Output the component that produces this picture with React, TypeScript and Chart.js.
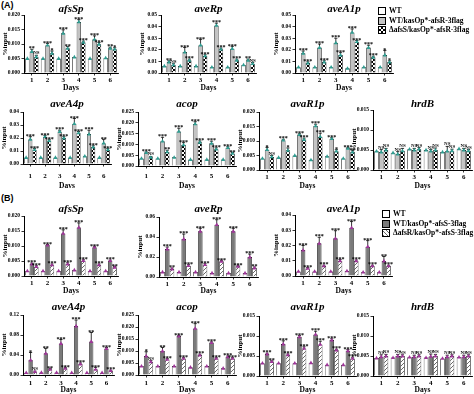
import React, { useEffect, useRef } from 'react';
import { Chart, registerables } from 'chart.js';
Chart.register(...registerables);

const DAYS = ['1', '2', '3', '4', '5', '6'];
const SERIES_A = ['WT', 'WT/kasOp*-afsR-3flag', 'ΔafsS/kasOp*-afsR-3flag'];
const SERIES_B = ['WT', 'WT/kasOp*-afsS-3flag', 'ΔafsR/kasOp*-afsS-3flag'];

// ---------- Panel (A) ----------
const A_afsSp_wt = [0.005, 0.005, 0.005, 0.0055, 0.005, 0.0052];
const A_afsSp_oe = [0.0074, 0.0096, 0.0137, 0.0176, 0.0116, 0.0085];
const A_afsSp_dl = [0.0056, 0.0068, 0.0085, 0.0106, 0.0099, 0.0082];
const A_afsSp_oeErr = [0.0008, 0.0006, 0.0012, 0.0008, 0.0012, 0.0004];
const A_afsSp_dlErr = [0.0005, 0.0008, 0.0006, 0.0004, 0.0006, 0.0005];
const A_afsSp_oeSig = ['**', '***', '***', '***', '***', '**'];
const A_afsSp_dlSig = ['NS', '*', '**', '***', '***', '*'];

const A_aveRp_wt = [0.006, 0.006, 0.006, 0.005, 0.005, 0.007];
const A_aveRp_oe = [0.0095, 0.018, 0.024, 0.041, 0.021, 0.011];
const A_aveRp_dl = [0.007, 0.011, 0.0147, 0.0205, 0.011, 0.008];
const A_aveRp_oeErr = [0.001, 0.004, 0.005, 0.002, 0.002, 0.001];
const A_aveRp_dlErr = [0.001, 0.001, 0.001, 0.001, 0.001, 0.001];
const A_aveRp_oeSig = ['**', '***', '***', '***', '***', '**'];
const A_aveRp_dlSig = ['NS', '***', '***', '***', '***', 'NS'];

const A_aveA1p_wt = [0.005, 0.005, 0.005, 0.004, 0.005, 0.005];
const A_aveA1p_oe = [0.017, 0.022, 0.026, 0.035, 0.022, 0.0155];
const A_aveA1p_dl = [0.0086, 0.0095, 0.0155, 0.027, 0.0135, 0.0095];
const A_aveA1p_oeErr = [0.002, 0.003, 0.004, 0.003, 0.002, 0.004];
const A_aveA1p_dlErr = [0.001, 0.001, 0.002, 0.001, 0.001, 0.001];
const A_aveA1p_oeSig = ['***', '***', '***', '***', '***', '*'];
const A_aveA1p_dlSig = ['***', '***', '***', '***', '***', '*'];

const A_aveA4p_wt = [0.005, 0.005, 0.005, 0.005, 0.006, 0.005];
const A_aveA4p_oe = [0.019, 0.021, 0.025, 0.031, 0.023, 0.016];
const A_aveA4p_dl = [0.011, 0.018, 0.02, 0.024, 0.013, 0.011];
const A_aveA4p_oeErr = [0.002, 0.001, 0.001, 0.004, 0.003, 0.003];
const A_aveA4p_dlErr = [0.001, 0.001, 0.001, 0.001, 0.001, 0.001];
const A_aveA4p_oeSig = ['***', '***', '***', '***', '***', '**'];
const A_aveA4p_dlSig = ['***', '***', '***', '***', '***', '***'];

const A_acop_wt = [0.0035, 0.0035, 0.004, 0.003, 0.003, 0.003];
const A_acop_oe = [0.0062, 0.0115, 0.016, 0.0195, 0.0105, 0.0085];
const A_acop_dl = [0.004, 0.0065, 0.0098, 0.011, 0.0078, 0.0058];
const A_acop_oeErr = [0.0003, 0.0018, 0.0015, 0.001, 0.001, 0.0004];
const A_acop_dlErr = [0.0004, 0.0008, 0.001, 0.0006, 0.0006, 0.0005];
const A_acop_oeSig = ['***', '***', '***', '***', '***', '***'];
const A_acop_dlSig = ['NS', '**', '***', '***', '***', '**'];

const A_avaR1p_wt = [0.004, 0.0043, 0.005, 0.0035, 0.0047, 0.004];
const A_avaR1p_oe = [0.007, 0.0103, 0.0122, 0.0152, 0.0108, 0.0075];
const A_avaR1p_dl = [0.0045, 0.0068, 0.0105, 0.0115, 0.0065, 0.0062];
const A_avaR1p_oeErr = [0.0008, 0.0003, 0.0003, 0.0006, 0.0003, 0.0002];
const A_avaR1p_dlErr = [0.0005, 0.0008, 0.0005, 0.0012, 0.0005, 0.0004];
const A_avaR1p_oeSig = ['*', '***', '***', '***', '***', '***'];
const A_avaR1p_dlSig = ['NS', '*', '***', '***', '*', '**'];

const A_hrdB_wt = [0.0047, 0.0043, 0.0052, 0.005, 0.0045, 0.0053];
const A_hrdB_oe = [0.0045, 0.004, 0.005, 0.0047, 0.0047, 0.005];
const A_hrdB_dl = [0.005, 0.0048, 0.0052, 0.005, 0.0048, 0.0048];
const A_hrdB_oeErr = [0.0006, 0.0006, 0.0004, 0.0004, 0.0012, 0.0004];
const A_hrdB_dlErr = [0.0004, 0.0006, 0.0004, 0.0005, 0.0004, 0.0003];
const A_hrdB_oeSig = ['NS', 'NS', 'NS', 'NS', 'NS', 'NS'];
const A_hrdB_dlSig = ['NS', 'NS', 'NS', 'NS', 'NS', 'NS'];

// ---------- Panel (B) ----------
const B_afsSp_wt = [0.0017, 0.0017, 0.0017, 0.002, 0.0017, 0.0017];
const B_afsSp_oe = [0.004, 0.0103, 0.0142, 0.0162, 0.0096, 0.0051];
const B_afsSp_dl = [0.0031, 0.0037, 0.004, 0.0051, 0.0037, 0.0029];
const B_afsSp_oeErr = [0.0003, 0.0002, 0.0012, 0.0015, 0.0003, 0.0002];
const B_afsSp_dlErr = [0.0003, 0.0003, 0.0004, 0.0003, 0.0003, 0.0003];
const B_afsSp_oeSig = ['***', '***', '***', '***', '***', '***'];
const B_afsSp_dlSig = ['***', '***', '***', '***', '***', '**'];

const B_aveRp_wt = [0.005, 0.005, 0.005, 0.004, 0.004, 0.004];
const B_aveRp_oe = [0.028, 0.038, 0.0457, 0.0523, 0.0457, 0.02];
const B_aveRp_dl = [0.008, 0.0113, 0.0123, 0.0157, 0.0107, 0.009];
const B_aveRp_oeErr = [0.002, 0.005, 0.003, 0.005, 0.003, 0.003];
const B_aveRp_dlErr = [0.001, 0.001, 0.001, 0.001, 0.001, 0.001];
const B_aveRp_oeSig = ['***', '***', '***', '***', '***', '***'];
const B_aveRp_dlSig = ['**', '***', '***', '***', '***', '**'];

const B_aveA1p_wt = [0.003, 0.003, 0.003, 0.0033, 0.0025, 0.0025];
const B_aveA1p_oe = [0.017, 0.0214, 0.0247, 0.0317, 0.0192, 0.0098];
const B_aveA1p_dl = [0.005, 0.0066, 0.01, 0.01, 0.0066, 0.0066];
const B_aveA1p_oeErr = [0.003, 0.004, 0.005, 0.004, 0.004, 0.003];
const B_aveA1p_dlErr = [0.0005, 0.0005, 0.0008, 0.0005, 0.0005, 0.0005];
const B_aveA1p_oeSig = ['***', '***', '***', '***', '***', '**'];
const B_aveA1p_dlSig = ['***', '***', '***', '***', '***', '***'];

const B_aveA4p_wt = [0.0047, 0.005, 0.005, 0.0047, 0.0047, 0.0047];
const B_aveA4p_oe = [0.03, 0.0433, 0.063, 0.098, 0.067, 0.053];
const B_aveA4p_dl = [0.0067, 0.0113, 0.0133, 0.022, 0.0113, 0.0087];
const B_aveA4p_oeErr = [0.015, 0.01, 0.008, 0.012, 0.018, 0.002];
const B_aveA4p_dlErr = [0.001, 0.002, 0.002, 0.002, 0.004, 0.001];
const B_aveA4p_oeSig = ['*', '**', '***', '***', '**', '***'];
const B_aveA4p_dlSig = ['NS', '**', '***', '***', '***', '***'];

const B_acop_wt = [0.0037, 0.0037, 0.0037, 0.0032, 0.0037, 0.0028];
const B_acop_oe = [0.0079, 0.01, 0.0162, 0.0194, 0.0135, 0.0076];
const B_acop_dl = [0.0055, 0.0065, 0.0069, 0.0083, 0.0069, 0.0069];
const B_acop_oeErr = [0.0018, 0.0015, 0.0003, 0.002, 0.0003, 0.0003];
const B_acop_dlErr = [0.0005, 0.0003, 0.0003, 0.0004, 0.0003, 0.0003];
const B_acop_oeSig = ['*', '**', '***', '***', '***', '***'];
const B_acop_dlSig = ['NS', '***', '***', '***', '***', '***'];

const B_avaR1p_wt = [0.0032, 0.0032, 0.0032, 0.0033, 0.0028, 0.0028];
const B_avaR1p_oe = [0.0055, 0.008, 0.0098, 0.0104, 0.009, 0.0063];
const B_avaR1p_dl = [0.0036, 0.0053, 0.0069, 0.0079, 0.0065, 0.0044];
const B_avaR1p_oeErr = [0.0002, 0.0008, 0.0003, 0.0008, 0.0003, 0.0003];
const B_avaR1p_dlErr = [0.0002, 0.0002, 0.0004, 0.0008, 0.0002, 0.0003];
const B_avaR1p_oeSig = ['***', '***', '***', '***', '***', '***'];
const B_avaR1p_dlSig = ['**', '***', '***', '***', '***', '***'];

const B_hrdB_wt = [0.0045, 0.0046, 0.0047, 0.0046, 0.0044, 0.0047];
const B_hrdB_oe = [0.0048, 0.005, 0.0048, 0.0049, 0.0048, 0.0048];
const B_hrdB_dl = [0.005, 0.005, 0.005, 0.005, 0.005, 0.005];
const B_hrdB_oeErr = [0.0005, 0.0004, 0.0004, 0.0006, 0.0004, 0.0004];
const B_hrdB_dlErr = [0.0004, 0.0003, 0.0003, 0.0004, 0.0003, 0.0003];
const B_hrdB_oeSig = ['NS', 'NS', 'NS', 'NS', 'NS', 'NS'];
const B_hrdB_dlSig = ['NS', 'NS', 'NS', 'NS', 'NS', 'NS'];

const SERIF = '"Liberation Serif", "DejaVu Serif", serif';

type Variant = 'A' | 'B';
interface PanelCfg {
  title: string;
  variant: Variant;
  wt: number[]; oe: number[]; dl: number[];
  oeErr: number[]; dlErr: number[];
  oeSig: string[]; dlSig: string[];
  yMax: number; yStep: number; dec: number;
  plot: [number, number, number, number];
  tickY: number; daysY: number; titleY: number;
}

const STYLE = {
  A: { oeFill: '#c3c3c3', marker: '#2f9e92' },
  B: { oeFill: '#7a7a7a', marker: '#a0359a' },
};

function makePattern(variant: Variant): CanvasPattern | string {
  const c = document.createElement('canvas');
  c.width = 4; c.height = 4;
  const g = c.getContext('2d');
  if (!g) return '#888';
  g.fillStyle = '#fff';
  g.fillRect(0, 0, 4, 4);
  if (variant === 'A') {
    g.fillStyle = '#000';
    g.fillRect(0, 0, 2, 2);
    g.fillRect(2, 2, 2, 2);
  } else {
    g.strokeStyle = '#6a6a6a';
    g.lineWidth = 1;
    g.beginPath();
    g.moveTo(-1, 5); g.lineTo(5, -1);
    g.moveTo(-1, 1); g.lineTo(1, -1);
    g.moveTo(3, 5); g.lineTo(5, 3);
    g.stroke();
  }
  const p = g.createPattern(c, 'repeat');
  return p || '#888';
}

const YW = 30, PT = 20, PR = 4, XH = 24;

function Panel({ cfg }: { cfg: PanelCfg }) {
  const ref = useRef<HTMLCanvasElement>(null);
  const [l, t, r, b] = cfg.plot;
  const W = YW + (r - l) + PR;
  const H = PT + (b - t) + XH;
  const left = l - YW;
  const top = t - PT;

  useEffect(() => {
    const canvas = ref.current;
    if (!canvas) return;
    const st = STYLE[cfg.variant];
    const names = cfg.variant === 'A' ? SERIES_A : SERIES_B;
    const values = [cfg.wt, cfg.oe, cfg.dl];
    const errs = [null, cfg.oeErr, cfg.dlErr];
    const sigs = [null, cfg.oeSig, cfg.dlSig];

    const deco = {
      id: 'deco',
      afterDatasetsDraw(chart: any) {
        const ctx = chart.ctx as CanvasRenderingContext2D;
        const ys = chart.scales.y;
        ctx.save();
        for (let ds = 0; ds < 3; ds++) {
          const meta = chart.getDatasetMeta(ds);
          meta.data.forEach((bar: any, i: number) => {
            const v = values[ds][i];
            const e = errs[ds] ? (errs[ds] as number[])[i] : 0;
            const x = bar.x;
            const yv = ys.getPixelForValue(v);
            const ye = ys.getPixelForValue(v + e);
            if (e > 0) {
              ctx.strokeStyle = '#000';
              ctx.lineWidth = 0.8;
              ctx.beginPath();
              ctx.moveTo(x, yv);
              ctx.lineTo(x, ye);
              ctx.moveTo(x - 1.6, ye);
              ctx.lineTo(x + 1.6, ye);
              ctx.stroke();
            }
            // replicate marker
            ctx.fillStyle = st.marker;
            ctx.beginPath();
            ctx.moveTo(x, yv - 2.2);
            ctx.lineTo(x + 2, yv + 1.4);
            ctx.lineTo(x - 2, yv + 1.4);
            ctx.closePath();
            ctx.fill();
            const s = sigs[ds] ? (sigs[ds] as string[])[i] : '';
            if (s) {
              ctx.fillStyle = '#000';
              ctx.textAlign = 'center';
              ctx.textBaseline = 'alphabetic';
              if (s === 'NS') {
                ctx.font = `bold 5px ${SERIF}`;
                ctx.fillText(s, x, ye - 1);
              } else {
                ctx.font = `bold 6px ${SERIF}`;
                ctx.fillText(s, x, ye + 1.2);
              }
            }
          });
        }
        ctx.restore();
      },
      afterDraw(chart: any) {
        const ctx = chart.ctx as CanvasRenderingContext2D;
        const ca = chart.chartArea;
        ctx.save();
        ctx.fillStyle = '#000';
        ctx.textAlign = 'center';
        ctx.textBaseline = 'middle';
        ctx.font = `italic bold 11px ${SERIF}`;
        ctx.fillText(cfg.title, (ca.left + ca.right) / 2, cfg.titleY - top);
        ctx.font = `bold 7.5px ${SERIF}`;
        ctx.fillText('Days', (ca.left + ca.right) / 2, cfg.daysY - top);
        ctx.translate(YW - 19, (ca.top + ca.bottom) / 2);
        ctx.rotate(-Math.PI / 2);
        ctx.font = `bold 7px ${SERIF}`;
        ctx.fillText('%input', 0, 0);
        ctx.restore();
      },
    };

    const nTicks = Math.round(cfg.yMax / cfg.yStep);
    const chart = new Chart(canvas, {
      type: 'bar',
      data: {
        labels: DAYS,
        datasets: [
          { label: names[0], data: cfg.wt, backgroundColor: '#ffffff', borderColor: '#000', borderWidth: 0.7 },
          { label: names[1], data: cfg.oe, backgroundColor: st.oeFill, borderColor: '#000', borderWidth: 0.7 },
          { label: names[2], data: cfg.dl, backgroundColor: makePattern(cfg.variant) as any, borderColor: '#000', borderWidth: 0.7 },
        ],
      },
      options: {
        responsive: false,
        animation: false,
        devicePixelRatio: 1,
        layout: { padding: { top: PT, right: PR, left: 0, bottom: 0 } },
        datasets: { bar: { categoryPercentage: 0.86, barPercentage: 0.97 } },
        plugins: { legend: { display: false }, tooltip: { enabled: false }, title: { display: false } },
        scales: {
          x: {
            grid: { display: true, drawOnChartArea: false, drawTicks: true, tickLength: 2.5, color: '#000', lineWidth: 0.8, offset: false },
            border: { display: true, color: '#000', width: 1 },
            ticks: {
              color: '#000',
              font: { family: SERIF, weight: 'bold', size: 7 },
              padding: Math.max(0, cfg.tickY - b - 2.5 - 4),
              maxRotation: 0,
              autoSkip: false,
            },
            afterFit: (s: any) => { s.height = XH; },
          },
          y: {
            min: 0,
            max: cfg.yMax,
            grid: { display: true, drawOnChartArea: false, drawTicks: true, tickLength: 2.5, color: '#000', lineWidth: 0.8 },
            border: { display: true, color: '#000', width: 1 },
            ticks: {
              color: '#000',
              font: { family: SERIF, weight: 'bold', size: 5.5 },
              padding: 1.5,
              callback: (v: any) => Number(v).toFixed(cfg.dec),
            },
            afterBuildTicks: (s: any) => {
              const arr = [];
              for (let i = 0; i <= nTicks; i++) arr.push({ value: Number((i * cfg.yStep).toFixed(6)) });
              s.ticks = arr;
            },
            afterFit: (s: any) => { s.width = YW; },
          },
        },
      } as any,
      plugins: [deco],
    });
    return () => chart.destroy();
  }, []);

  return (
    <canvas
      ref={ref}
      width={W}
      height={H}
      style={{ position: 'absolute', left, top, width: W, height: H }}
    />
  );
}

const PANELS: PanelCfg[] = [
  { title: 'afsSp', variant: 'A', wt: A_afsSp_wt, oe: A_afsSp_oe, dl: A_afsSp_dl, oeErr: A_afsSp_oeErr, dlErr: A_afsSp_dlErr, oeSig: A_afsSp_oeSig, dlSig: A_afsSp_dlSig, yMax: 0.02, yStep: 0.005, dec: 3, plot: [24, 15, 118, 73], tickY: 80, daysY: 88, titleY: 9 },
  { title: 'aveRp', variant: 'A', wt: A_aveRp_wt, oe: A_aveRp_oe, dl: A_aveRp_dl, oeErr: A_aveRp_oeErr, dlErr: A_aveRp_dlErr, oeSig: A_aveRp_oeSig, dlSig: A_aveRp_dlSig, yMax: 0.05, yStep: 0.01, dec: 2, plot: [161, 15, 256, 73], tickY: 80, daysY: 88, titleY: 9 },
  { title: 'aveA1p', variant: 'A', wt: A_aveA1p_wt, oe: A_aveA1p_oe, dl: A_aveA1p_dl, oeErr: A_aveA1p_oeErr, dlErr: A_aveA1p_dlErr, oeSig: A_aveA1p_oeSig, dlSig: A_aveA1p_dlSig, yMax: 0.05, yStep: 0.01, dec: 2, plot: [295, 15, 393, 73], tickY: 80, daysY: 88, titleY: 9 },
  { title: 'aveA4p', variant: 'A', wt: A_aveA4p_wt, oe: A_aveA4p_oe, dl: A_aveA4p_dl, oeErr: A_aveA4p_oeErr, dlErr: A_aveA4p_dlErr, oeSig: A_aveA4p_oeSig, dlSig: A_aveA4p_dlSig, yMax: 0.04, yStep: 0.01, dec: 2, plot: [23, 112, 111, 164], tickY: 176, daysY: 186, titleY: 104 },
  { title: 'acop', variant: 'A', wt: A_acop_wt, oe: A_acop_oe, dl: A_acop_dl, oeErr: A_acop_oeErr, dlErr: A_acop_dlErr, oeSig: A_acop_oeSig, dlSig: A_acop_dlSig, yMax: 0.025, yStep: 0.005, dec: 3, plot: [138, 112, 236, 166], tickY: 176, daysY: 186, titleY: 104 },
  { title: 'avaR1p', variant: 'A', wt: A_avaR1p_wt, oe: A_avaR1p_oe, dl: A_avaR1p_dl, oeErr: A_avaR1p_oeErr, dlErr: A_avaR1p_dlErr, oeSig: A_avaR1p_oeSig, dlSig: A_avaR1p_dlSig, yMax: 0.02, yStep: 0.005, dec: 3, plot: [259, 112, 356, 170], tickY: 176, daysY: 186, titleY: 104 },
  { title: 'hrdB', variant: 'A', wt: A_hrdB_wt, oe: A_hrdB_oe, dl: A_hrdB_dl, oeErr: A_hrdB_oeErr, dlErr: A_hrdB_dlErr, oeSig: A_hrdB_oeSig, dlSig: A_hrdB_dlSig, yMax: 0.015, yStep: 0.005, dec: 3, plot: [373, 110, 472, 170], tickY: 176, daysY: 186, titleY: 104 },
  { title: 'afsSp', variant: 'B', wt: B_afsSp_wt, oe: B_afsSp_oe, dl: B_afsSp_dl, oeErr: B_afsSp_oeErr, dlErr: B_afsSp_dlErr, oeSig: B_afsSp_oeSig, dlSig: B_afsSp_dlSig, yMax: 0.02, yStep: 0.005, dec: 3, plot: [24, 216, 118, 276], tickY: 283, daysY: 291, titleY: 209 },
  { title: 'aveRp', variant: 'B', wt: B_aveRp_wt, oe: B_aveRp_oe, dl: B_aveRp_dl, oeErr: B_aveRp_oeErr, dlErr: B_aveRp_dlErr, oeSig: B_aveRp_oeSig, dlSig: B_aveRp_dlSig, yMax: 0.06, yStep: 0.02, dec: 2, plot: [159, 217, 258, 277], tickY: 283, daysY: 291, titleY: 209 },
  { title: 'aveA1p', variant: 'B', wt: B_aveA1p_wt, oe: B_aveA1p_oe, dl: B_aveA1p_dl, oeErr: B_aveA1p_oeErr, dlErr: B_aveA1p_dlErr, oeSig: B_aveA1p_oeSig, dlSig: B_aveA1p_dlSig, yMax: 0.04, yStep: 0.01, dec: 2, plot: [295, 215, 392, 276], tickY: 283, daysY: 291, titleY: 209 },
  { title: 'aveA4p', variant: 'B', wt: B_aveA4p_wt, oe: B_aveA4p_oe, dl: B_aveA4p_dl, oeErr: B_aveA4p_oeErr, dlErr: B_aveA4p_dlErr, oeSig: B_aveA4p_oeSig, dlSig: B_aveA4p_dlSig, yMax: 0.12, yStep: 0.04, dec: 2, plot: [23, 315, 114, 375], tickY: 383, daysY: 390, titleY: 307 },
  { title: 'acop', variant: 'B', wt: B_acop_wt, oe: B_acop_oe, dl: B_acop_dl, oeErr: B_acop_oeErr, dlErr: B_acop_dlErr, oeSig: B_acop_oeSig, dlSig: B_acop_dlSig, yMax: 0.025, yStep: 0.005, dec: 3, plot: [138, 315, 236, 375], tickY: 383, daysY: 390, titleY: 307 },
  { title: 'avaR1p', variant: 'B', wt: B_avaR1p_wt, oe: B_avaR1p_oe, dl: B_avaR1p_dl, oeErr: B_avaR1p_oeErr, dlErr: B_avaR1p_dlErr, oeSig: B_avaR1p_oeSig, dlSig: B_avaR1p_dlSig, yMax: 0.015, yStep: 0.005, dec: 3, plot: [259, 316, 356, 376], tickY: 383, daysY: 390, titleY: 307 },
  { title: 'hrdB', variant: 'B', wt: B_hrdB_wt, oe: B_hrdB_oe, dl: B_hrdB_dl, oeErr: B_hrdB_oeErr, dlErr: B_hrdB_dlErr, oeSig: B_hrdB_oeSig, dlSig: B_hrdB_dlSig, yMax: 0.015, yStep: 0.005, dec: 3, plot: [373, 316, 472, 376], tickY: 383, daysY: 390, titleY: 307 },
];

function Legend({ variant, x, y }: { variant: Variant; x: number; y: number }) {
  const names = variant === 'A' ? SERIES_A : SERIES_B;
  const fills = [
    '#ffffff',
    STYLE[variant].oeFill,
    variant === 'A'
      ? 'repeating-conic-gradient(#000 0 25%, #fff 0 50%) 0 0 / 4px 4px'
      : 'repeating-linear-gradient(45deg, #6a6a6a 0 1px, #fff 1px 3px)',
  ];
  return (
    <div style={{ position: 'absolute', left: x, top: y }}>
      {names.map((n, i) => (
        <div key={n} style={{ position: 'absolute', left: 0, top: i * 9.5, height: 9, whiteSpace: 'nowrap' }}>
          <div style={{ position: 'absolute', left: 0, top: 1, width: 6, height: 6, border: '1px solid #000', background: fills[i] }} />
          <div style={{ position: 'absolute', left: 11, top: 0, font: `bold 7.5px ${SERIF}`, lineHeight: '9px', color: '#000' }}>{n}</div>
        </div>
      ))}
    </div>
  );
}

export default function App() {
  return (
    <div style={{ position: 'absolute', left: 0, top: 0, width: 474, height: 394, overflow: 'hidden', background: '#fff' }}>
      <div style={{ position: 'absolute', left: 1, top: 0, font: 'bold 9px "Liberation Sans", Arial, sans-serif', color: '#000' }}>(A)</div>
      <div style={{ position: 'absolute', left: 1, top: 193, font: 'bold 9px "Liberation Sans", Arial, sans-serif', color: '#000' }}>(B)</div>
      {PANELS.map((p, i) => <Panel key={i} cfg={p} />)}
      <Legend variant="A" x={378} y={6} />
      <Legend variant="B" x={382} y={209} />
    </div>
  );
}
